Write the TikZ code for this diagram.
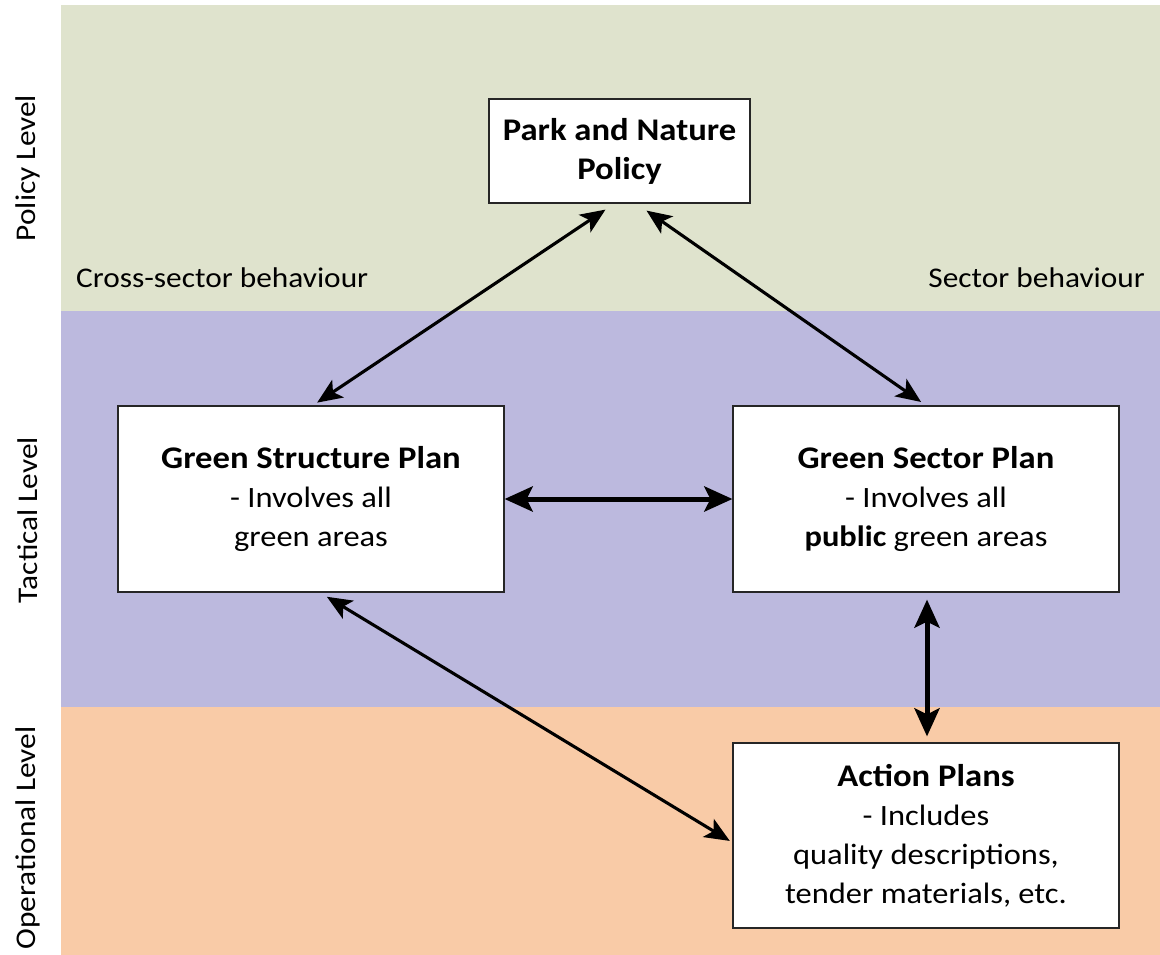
\documentclass[tikz,border=0pt]{standalone}
\usepackage{fontspec}
\setmainfont[FakeStretch=1.1]{Carlito}
\usetikzlibrary{arrows.meta,calc}
\definecolor{bandgreen}{HTML}{DFE3CD}
\definecolor{bandpurple}{HTML}{BCB9DE}
\definecolor{bandorange}{HTML}{F9CBA7}
\newcommand{\boxtitle}{\fontsize{31.5}{39}\selectfont\bfseries}
\begin{document}
\begin{tikzpicture}[x=1pt,y=-1pt,
  planbox/.style={draw=black!85,line width=1.2pt,fill=white,align=center,inner sep=0pt,
    font=\fontsize{29.5}{39}\selectfont},
  thinarrow/.style={{Stealth[length=25pt,width=21pt,inset=6pt]}-{Stealth[length=25pt,width=21pt,inset=6pt]},line width=3.1pt},
  thickarrow/.style={{Stealth[length=28pt,width=25pt,inset=6pt]}-{Stealth[length=28pt,width=25pt,inset=6pt]},line width=5pt},
  levellabel/.style={rotate=90,font=\fontsize{28.5}{30}\selectfont,inner sep=0pt},
  behav/.style={font=\fontsize{28.5}{30}\selectfont,inner sep=0pt}]
\useasboundingbox (0,0) rectangle (1160,955);
\fill[white] (0,0) rectangle (1160,955);
% bands
\fill[bandgreen] (61,5) rectangle (1160,311);
\fill[bandpurple] (61,311) rectangle (1160,707);
\fill[bandorange] (61,707) rectangle (1160,955);
% level labels
\node[levellabel] (lpol) at (28,168) {Policy Level};
\node[levellabel] (ltac) at (28,520) {Tactical Level};
\node[levellabel] (lop) at (28,838) {Operational Level};
\node[behav,anchor=base west] (cross) at (76,287) {Cross-sector behaviour};
\node[behav,anchor=base east] (sect) at (1145,287) {Sector behaviour};
% boxes
\node[planbox,minimum width=261pt,minimum height=104pt] (policy) at (619.5,151)
  {\boxtitle Park and Nature\\\boxtitle Policy};
\node[planbox,minimum width=386pt,minimum height=186pt] (gstruct) at (311,499)
  {{\boxtitle Green Structure Plan}\\- Involves all\\green areas};
\node[planbox,minimum width=386pt,minimum height=186pt] (gsector) at (926,499)
  {{\boxtitle Green Sector Plan}\\- Involves all\\\textbf{public} green areas};
\node[planbox,minimum width=386pt,minimum height=185pt] (action) at (926,835.5)
  {{\boxtitle Action Plans}\\- Includes\\quality descriptions,\\tender materials, etc.};
% connectors
\coordinate (gsT) at ($(gstruct.north)+(2,0)$);
\coordinate (polL) at ($(policy.south)+(-14,6)$);
\coordinate (polR) at ($(policy.south)+(27,7)$);
\draw[thinarrow,shorten <=5pt] (gsT) -- (polL);
\draw[thinarrow,shorten >=6pt] (polR) -- (gsector.north);
\draw[thickarrow] (gstruct.east) -- (gsector.east -| gsector.west);
\draw[thickarrow,shorten <=7pt,shorten >=6pt] ([xshift=1pt]gsector.south) -- ([xshift=1pt]action.north);
\coordinate (gsB) at ($(gstruct.south)+(9,0)$);
\coordinate (acL) at ($(action.west)+(0,7)$);
\draw[thinarrow,shorten <=8pt,shorten >=3pt] (gsB) -- (acL);
\end{tikzpicture}
\end{document}
